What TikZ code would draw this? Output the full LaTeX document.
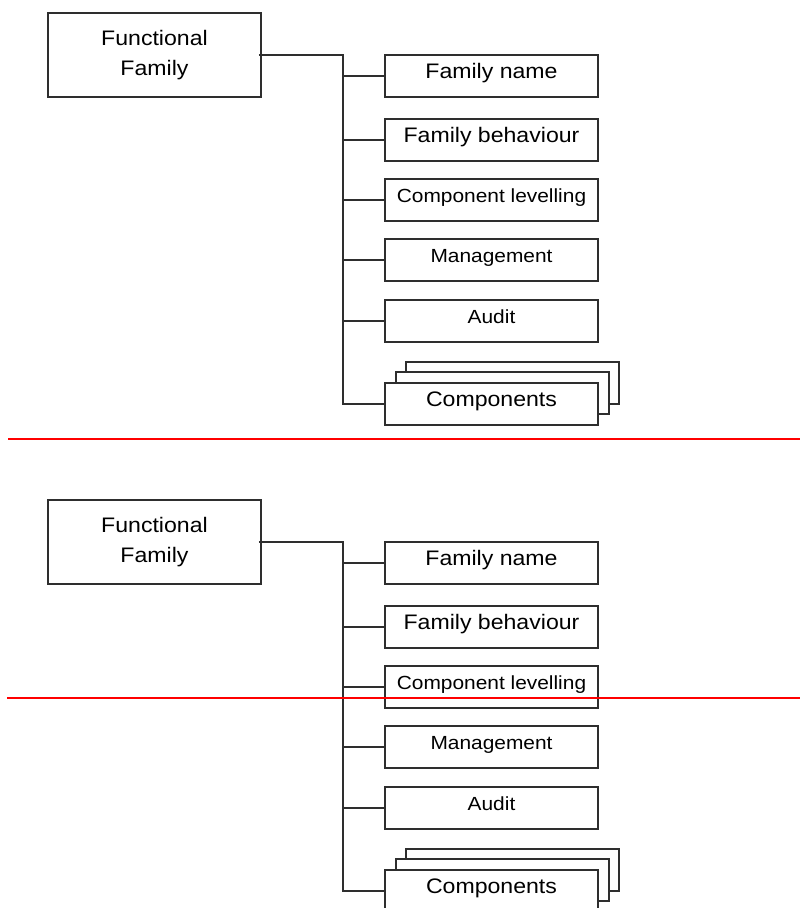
\documentclass[tikz,border=0pt]{standalone}
\usepackage{fontspec}
\setmainfont[FakeStretch=1.1]{Liberation Sans}
\begin{document}
\begin{tikzpicture}[x=1pt,y=-1pt,
  box/.style={draw=black!82,line width=1.5pt,fill=white,inner sep=0pt,
    minimum width=213pt,minimum height=42pt,text height=14pt,text depth=9.4pt},
  bigtxt/.style={font=\fontsize{21}{28}\selectfont},
  smalltxt/.style={font=\fontsize{19}{24}\selectfont},
  famboxstyle/.style={draw=black!82,line width=1.5pt,fill=white,inner sep=0pt,
    minimum width=213pt,minimum height=84pt,align=center,
    font=\fontsize{21}{30.5}\selectfont},
  conn/.style={draw=black!82,line width=1.4pt},
  sep/.style={draw=red,line width=2.4pt}]
\useasboundingbox (0,0) rectangle (800,908);
\clip (0,0) rectangle (800,908);
\foreach \p/\s in {a/0,b/487}{
\begin{scope}[yshift=-\s pt, name prefix=\p-]
  \node[famboxstyle] (ff) at (154.5,55) {Functional\\Family};
  \node[box,bigtxt] (c1) at (491.5,76) {Family name};
  \node[box,bigtxt] (c2) at (491.5,140) {Family behaviour};
  \node[box,smalltxt] (c3) at (491.5,200) {Component levelling};
  \node[box,smalltxt] (c4) at (491.5,260) {Management};
  \node[box,smalltxt] (c5) at (491.5,321) {Audit};
  \node[box] (c6c) at (512.5,383) {};
  \node[box] (c6b) at (502.5,393) {};
  \node[box,bigtxt] (c6) at (491.5,404) {Components};
  \coordinate (t) at (343,55);
  \draw[conn] ([xshift=-3pt]ff.east) -- (t) |- (c6.west);
  \draw[conn] (t) |- (c1.west);
  \draw[conn] (t) |- (c2.west);
  \draw[conn] (t) |- (c3.west);
  \draw[conn] (t) |- (c4.west);
  \draw[conn] (t) |- (c5.west);
\end{scope}}
\coordinate (r1a) at (8,439);
\coordinate (r1b) at (800,439);
\coordinate (r2a) at (7,698);
\coordinate (r2b) at (800,698);
\draw[sep] (r1a) -- (r1b);
\draw[sep] (r2a) -- (r2b);
\end{tikzpicture}
\end{document}
